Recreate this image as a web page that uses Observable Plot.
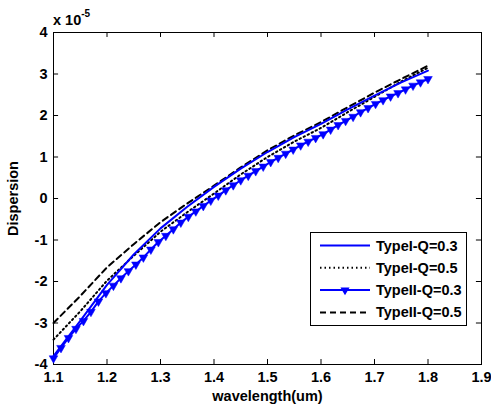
<!DOCTYPE html>
<html>
<head>
<meta charset="utf-8">
<script src="https://cdn.jsdelivr.net/npm/d3@7"></script>
<script src="https://cdn.jsdelivr.net/npm/@observablehq/plot@0.6"></script>
<style>
  body { margin: 0; background: #fff; }
  #wrap { position: relative; width: 491px; height: 407px; font-family: "Liberation Sans", Arial, sans-serif; font-weight: bold; }
  #expo { position: absolute; left: 53px; top: 8px; font-size: 14.5px; line-height: 16px; }
  #expo sup { font-size: 10px; position: relative; top: -2px; }
  #legend { position: absolute; left: 310px; top: 232px; }
</style>
</head>
<body>
<div id="wrap"></div>
<script>
// ---- data (units of 1e-5) ----
const wavelength = [1.10, 1.15, 1.20, 1.25, 1.30, 1.35, 1.40, 1.45, 1.50, 1.55, 1.60, 1.65, 1.70, 1.75, 1.80];
const typeI_Q03  = [-3.80, -2.95, -2.08, -1.35, -0.72, -0.20, 0.28, 0.72, 1.12, 1.48, 1.80, 2.15, 2.48, 2.80, 3.08];
const typeI_Q05  = [-3.40, -2.72, -1.98, -1.38, -0.80, -0.33, 0.12, 0.58, 1.00, 1.37, 1.70, 2.08, 2.45, 2.82, 3.15];
const typeII_Q05 = [-3.00, -2.35, -1.66, -1.10, -0.57, -0.12, 0.31, 0.75, 1.16, 1.52, 1.84, 2.20, 2.55, 2.88, 3.20];
const wavelengthII = [1.100,1.114,1.128,1.142,1.156,1.170,1.184,1.198,1.212,1.226,1.240,1.254,1.268,1.282,1.296,1.310,1.324,1.338,1.352,1.366,1.380,1.394,1.408,1.422,1.436,1.450,1.464,1.478,1.492,1.506,1.520,1.534,1.548,1.562,1.576,1.590,1.604,1.618,1.632,1.646,1.660,1.674,1.688,1.702,1.716,1.730,1.744,1.758,1.772,1.786,1.800];
const typeII_Q03 = [-3.85,-3.60,-3.36,-3.14,-2.95,-2.73,-2.48,-2.28,-2.10,-1.92,-1.75,-1.59,-1.42,-1.23,-1.05,-0.90,-0.74,-0.58,-0.44,-0.31,-0.18,-0.05,0.07,0.20,0.32,0.44,0.55,0.66,0.77,0.88,0.98,1.08,1.18,1.28,1.37,1.46,1.55,1.66,1.77,1.87,1.97,2.08,2.18,2.28,2.37,2.46,2.54,2.63,2.72,2.80,2.88];
const xTicks = [1.1, 1.2, 1.3, 1.4, 1.5, 1.6, 1.7, 1.8, 1.9];
const yTicks = [-4, -3, -2, -1, 0, 1, 2, 3, 4];
const seriesNames = ["TypeI-Q=0.3", "TypeI-Q=0.5", "TypeII-Q=0.3", "TypeII-Q=0.5"];

const blue = "#0000ff";
const toRows = (xs, ys) => xs.map((x, i) => ({x, y: ys[i]}));
const dI03 = toRows(wavelength, typeI_Q03);
const dI05 = toRows(wavelength, typeI_Q05);
const dII05 = toRows(wavelength, typeII_Q05);
const dII03 = toRows(wavelengthII, typeII_Q03);

const xMin = 1.1, xMax = 1.9, yMin = -4, yMax = 4;
const tickLenY = 0.12;   // inward tick length in y units
const tickLenX = 0.0095; // inward tick length in x units

const chart = Plot.plot({
  width: 491,
  height: 407,
  marginLeft: 53,
  marginRight: 10,
  marginTop: 32,
  marginBottom: 43,
  style: {fontFamily: '"Liberation Sans", Arial, sans-serif', fontSize: "14.5px", fontWeight: "bold", color: "#000", background: "#fff"},
  x: {domain: [xMin, xMax], ticks: xTicks, tickFormat: d => d.toFixed(1), tickSize: 0, tickPadding: 7,
      label: "wavelength(um)", labelAnchor: "center", labelOffset: 36, labelArrow: "none"},
  y: {domain: [yMin, yMax], ticks: yTicks, tickFormat: d => String(d), tickSize: 0, tickPadding: 6,
      label: "Dispersion", labelAnchor: "center", labelOffset: 46, labelArrow: "none"},
  marks: [
    Plot.frame({stroke: "#000", strokeWidth: 1}),
    Plot.ruleX(xTicks, {x: d => d, y1: yMin, y2: yMin + tickLenY, stroke: "#000"}),
    Plot.ruleX(xTicks, {x: d => d, y1: yMax, y2: yMax - tickLenY, stroke: "#000"}),
    Plot.ruleY(yTicks, {y: d => d, x1: xMin, x2: xMin + tickLenX, stroke: "#000"}),
    Plot.ruleY(yTicks, {y: d => d, x1: xMax, x2: xMax - tickLenX, stroke: "#000"}),
    Plot.line(dII05, {x: "x", y: "y", stroke: "#000", strokeWidth: 2, strokeDasharray: "6,4"}),
    Plot.line(dI05, {x: "x", y: "y", stroke: "#000", strokeWidth: 2, strokeDasharray: "1.5,3"}),
    Plot.line(dII03, {x: "x", y: "y", stroke: blue, strokeWidth: 2}),
    Plot.dot(dII03, {x: "x", y: "y", symbol: "triangle", r: 3.2, rotate: 180, fill: blue, stroke: blue, strokeWidth: 0.5}),
    Plot.line(dI03, {x: "x", y: "y", stroke: blue, strokeWidth: 2})
  ]
});

const wrap = document.getElementById("wrap");
wrap.appendChild(chart);

const expo = document.createElement("div");
expo.id = "expo";
expo.innerHTML = "x 10<sup>-5</sup>";
wrap.appendChild(expo);

// legend
const lw = 157, lh = 94;
const leg = d3.create("svg").attr("id", "legend").attr("width", lw).attr("height", lh)
  .style("font-family", '"Liberation Sans", Arial, sans-serif').style("font-weight", "bold").style("font-size", "14.5px");
leg.append("rect").attr("x", 0.5).attr("y", 0.5).attr("width", lw - 1).attr("height", lh - 1).attr("fill", "#fff").attr("stroke", "#000");
const styles = [
  {stroke: blue, dash: null, marker: false},
  {stroke: "#000", dash: "1.5,3", marker: false},
  {stroke: blue, dash: null, marker: true},
  {stroke: "#000", dash: "6,4", marker: false}
];
seriesNames.forEach((name, i) => {
  const cy = 13.5 + i * 22.3;
  const s = styles[i];
  const ln = leg.append("line").attr("x1", 10).attr("x2", 60).attr("y1", cy).attr("y2", cy)
    .attr("stroke", s.stroke).attr("stroke-width", 2);
  if (s.dash) ln.attr("stroke-dasharray", s.dash);
  if (s.marker) {
    leg.append("path").attr("d", d3.symbol(d3.symbolTriangle, 36)()).attr("transform", `translate(35,${cy}) rotate(180)`).attr("fill", blue);
  }
  leg.append("text").attr("x", 66).attr("y", cy).attr("dy", "0.35em").text(name);
});
wrap.appendChild(leg.node());
</script>
</body>
</html>
